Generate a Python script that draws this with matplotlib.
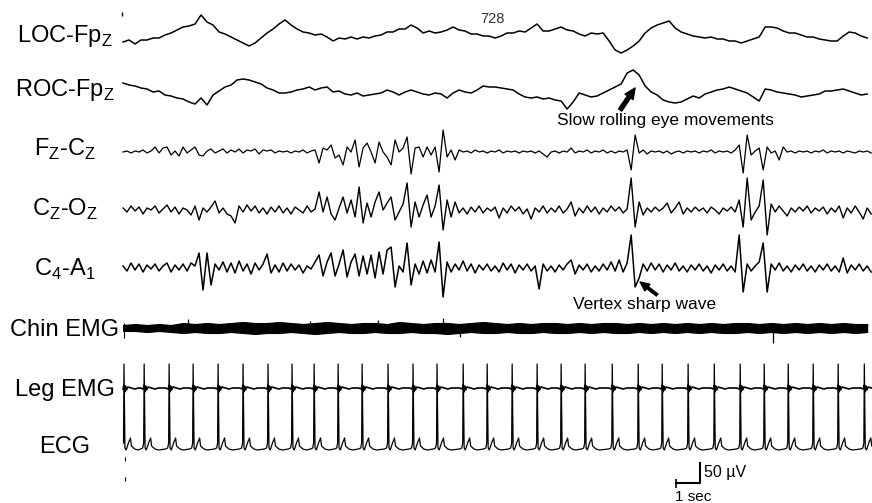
"""30-s polysomnography epoch: stage N1 with slow eye movements and vertex sharp waves."""

import numpy as np
import matplotlib.pyplot as plt

plt.rcParams["font.family"] = ["Liberation Sans", "DejaVu Sans"]
plt.rcParams["mathtext.fontset"] = "custom"
plt.rcParams["mathtext.rm"] = "Liberation Sans"

# ---------------------------------------------------------------------------
# data (µV relative to each channel's baseline)
# ---------------------------------------------------------------------------
channels = [
    "LOC-Fp$_\\mathregular{Z}$",
    "ROC-Fp$_\\mathregular{Z}$",
    "F$_\\mathregular{Z}$-C$_\\mathregular{Z}$",
    "C$_\\mathregular{Z}$-O$_\\mathregular{Z}$",
    "C$_\\mathregular{4}$-A$_\\mathregular{1}$",
    "Chin EMG",
    "Leg EMG",
    "ECG",
]

# eye channels, one value every 0.25 s
loc = [
    -17.5, -12.5, -22.5, -12.5, -12.5, -7.5, -7.5, 0,
    5, 12.5, 20, 22.5, 27.5, 50, 32.5, 25,
    7.5, 2.5, -5, -12.5, -20, -27.5, -20, -7.5,
    5, 15, 27.5, 37.5, 25, 15, 7.5, 5,
    0, 2.5, -5, -15, -7.5, -10, -5, -10,
    -5, -7.5, -2.5, 0, 7.5, 7.5, 15, 15,
    25, 17.5, 5, 10, 5, 7.5, 12.5, 20,
    12.5, 10, 2.5, 2.5, -2.5, -2.5, -7.5, -2.5,
    5, 5, 10, 7.5, 17.5, 27.5, 10, 10,
    15, 20, 12.5, 10, 2.5, -2.5, 5, 2.5,
    5, -15, -37.5, -45, -37.5, -27.5, -15, 5,
    17.5, 25, 30, 35, 17.5, 7.5, 2.5, -2.5,
    -5, -7.5, -5, -10, -10, -15, -15, -20,
    -15, -10, -5, 20, 20, 17.5, 10, 5,
    5, 0, -5, -5, -10, -12.5, -15, -15,
    -2.5, 7.5, 5, -2.5, -7.5,
]
roc = [
    25, 20, 17.5, 12.5, 10, 2.5, 5, -5,
    -7.5, -12.5, -15, -22.5, -27.5, -12.5, -30, -5,
    5, 15, 20, 32.5, 35, 32.5, 27.5, 22.5,
    12.5, 7.5, 0, 0, 2.5, 7.5, 10, 15,
    7.5, 12.5, 15, 2.5, 5, -2.5, -5, 0,
    -7.5, -5, -2.5, 0, 7.5, 2.5, -5, 2.5,
    7.5, 2.5, -2.5, -5, 0, -2.5, -12.5, 0,
    7.5, 2.5, 0, 7.5, 17.5, 15, 15, 12.5,
    10, 7.5, -2.5, -10, -12.5, -10, -15, -12.5,
    -17.5, -20, -40, -22.5, 0, -5, -10, -7.5,
    0, 7.5, 15, 22.5, 50, 57.5, 45, 17.5,
    2.5, -5, -17.5, -22.5, -25, -22.5, -15, -7.5,
    -12.5, -2.5, 2.5, 7.5, 10, 15, 10, 5,
    0, -10, -20, 10, 7.5, 2.5, 0, -2.5,
    -5, -10, -7.5, -5, -2.5, 5, 5, 7.5,
    10, 5, 0, -5, -2.5,
]

# EEG channels, one value every 1/6 s
fz_cz = [
    0, 2.5, -2.5, 2.5, 0, 5, -2.5, 2.5,
    12.5, -2.5, 10, 12.5, -7.5, 2.5, -10, 12.5,
    -2.5, 5, 12.5, -7.5, -10, 2.5, 7.5, -2.5,
    2.5, 7.5, -2.5, 5, 0, 7.5, -2.5, 5,
    2.5, 7.5, -5, 5, 2.5, 5, -2.5, 2.5,
    0, 2.5, -2.5, 2.5, 0, 5, -2.5, 2.5,
    5, -27.5, 10, 5, 17.5, -15, -7.5, -32.5,
    12.5, 0, 30, -37.5, 10, 22.5, 0, -27.5,
    25, 0, -12.5, -32.5, 30, 0, 10, 37.5,
    -55, 10, 12.5, -12.5, 12.5, -7.5, 12.5, -50,
    55, -12.5, 5, -20, 5, 0, 2.5, -2.5,
    5, 0, 2.5, -2.5, 2.5, 0, 5, -2.5,
    2.5, 0, 2.5, -2.5, 2.5, 0, 2.5, -2.5,
    2.5, -5, -12.5, 0, 2.5, -2.5, 2.5, 0,
    10, -2.5, 2.5, 0, 5, -2.5, 2.5, 0,
    5, -2.5, 2.5, -2.5, 2.5, 0, 5, -45,
    42.5, -2.5, 5, -5, 2.5, 0, 2.5, -2.5,
    2.5, -5, 0, 2.5, -2.5, 2.5, 0, 2.5,
    -2.5, 2.5, 0, 5, -2.5, 2.5, 0, 2.5,
    -2.5, 5, 17.5, -52.5, 42.5, -7.5, 2.5, 10,
    -45, 12.5, -2.5, 2.5, -20, 12.5, 0, 2.5,
    -2.5, 2.5, 0, 2.5, -2.5, 2.5, 0, 5,
    -2.5, 2.5, 0, 2.5, -2.5, 2.5, 0, -2.5,
    2.5, 0, 2.5, -2.5,
]
cz_oz = [
    5, -5, 10, -2.5, 7.5, -10, 5, 0,
    10, -7.5, 2.5, 12.5, -5, 7.5, -10, 5,
    0, -12.5, 10, -25, 5, -5, 7.5, 22.5,
    -7.5, 5, -10, -15, -32.5, 10, -5, 12.5,
    -2.5, 10, -7.5, 5, -10, 7.5, -5, 10,
    -7.5, 5, -10, 7.5, 0, -7.5, 10, -5,
    2.5, 45, -5, 32.5, -10, -25, 5, 32.5,
    -7.5, 25, -17.5, 57.5, -32.5, 17.5, -17.5, 20,
    45, 0, 17.5, 32.5, -25, -5, 15, 67.5,
    -42.5, 20, -17.5, 12.5, 37.5, -17.5, 10, 62.5,
    -50, 25, -17.5, 20, -7.5, 5, -10, 7.5,
    -5, 10, -7.5, 5, -2.5, 7.5, -20, 5,
    -7.5, 10, -2.5, 7.5, -10, 2.5, -22.5, 5,
    -5, 10, -7.5, 5, -5, 10, -7.5, 2.5,
    20, -15, 5, -7.5, 10, -5, 7.5, -10,
    5, -5, 10, -2.5, 7.5, -7.5, 2.5, 80,
    -42.5, 20, -12.5, 5, -5, 7.5, -2.5, 5,
    17.5, -7.5, 5, 20, -10, 5, -5, 7.5,
    -2.5, 5, -7.5, 7.5, 0, -10, 5, -2.5,
    7.5, -5, 25, -42.5, 80, -25, -5, 10,
    75, -62.5, 15, -5, 10, -2.5, -15, 5,
    -5, 7.5, -2.5, 10, -7.5, 5, -2.5, 7.5,
    -10, 5, -5, 10, -20, 5, -7.5, 10,
    -5, -22.5, 5, -10,
]
c4_a1 = [
    5, -7.5, 12.5, -5, 10, -10, 7.5, -2.5,
    10, -7.5, 5, 12.5, -10, 7.5, -5, 10,
    -7.5, 12.5, 5, 37.5, -55, 37.5, -42.5, 10,
    -5, 15, -10, 12.5, -12.5, 17.5, -7.5, 10,
    -15, 12.5, -5, 10, 35, -12.5, 7.5, -10,
    12.5, -7.5, 10, -5, 7.5, -12.5, 5, -2.5,
    15, 32.5, -20, 15, 37.5, -20, 10, 45,
    -22.5, 15, 35, -20, 30, -15, 32.5, -25,
    40, -15, 45, 52.5, -47.5, 5, -10, 62.5,
    -42.5, 10, -15, 17.5, -12.5, 20, -10, 65,
    -72.5, 15, -10, 10, -5, 17.5, -7.5, 10,
    -12.5, 7.5, -5, 10, -7.5, 5, -10, 12.5,
    -5, 10, -12.5, 7.5, -5, 10, -7.5, 5,
    -52.5, 10, -7.5, 5, -10, 7.5, -5, 10,
    20, -15, 7.5, -5, 10, -10, 5, -7.5,
    10, -5, 15, -7.5, 20, -10, 12.5, 82.5,
    -47.5, -25, 10, -7.5, 12.5, -5, 10, -10,
    7.5, -5, 12.5, -7.5, 5, -10, 7.5, -5,
    10, -7.5, 5, -12.5, 7.5, -5, 10, -7.5,
    5, -10, 82.5, -60, 10, -7.5, 5, 15,
    62.5, -60, 10, -5, 12.5, -7.5, 5, -10,
    7.5, -5, 10, -7.5, 5, -10, 7.5, -5,
    10, -7.5, 5, -10, 25, -12.5, 7.5, -5,
    10, -7.5, 5, -10,
]
assert len(loc) == len(roc) == 125
assert len(fz_cz) == len(cz_oz) == len(c4_a1) == 188

# chin EMG envelope every 0.5 s, plus the few spikes sticking out of it
chin_upper = [
    7.5, 10, 7.5, 10, 7.5, 12.5, 10, 12.5, 10, 12.5, 15, 12.5,
    12.5, 15, 12.5, 10, 12.5, 15, 12.5, 10, 12.5, 12.5, 10, 15,
    12.5, 10, 12.5, 12.5, 10, 12.5, 15, 12.5, 10, 12.5, 10, 12.5,
    12.5, 10, 12.5, 10, 12.5, 12.5, 10, 12.5, 10, 12.5, 10, 12.5,
    10, 12.5, 10, 12.5, 12.5, 10, 12.5, 10, 12.5, 10, 12.5, 10,
    12.5, 10, 10,
]
chin_lower = [
    -7.5, -7.5, -10, -7.5, -10, -12.5, -10, -12.5, -12.5, -10, -12.5, -15,
    -12.5, -12.5, -10, -12.5, -15, -12.5, -10, -12.5, -12.5, -10, -12.5, -12.5,
    -10, -12.5, -12.5, -15, -12.5, -10, -12.5, -12.5, -10, -12.5, -12.5, -10,
    -12.5, -12.5, -10, -12.5, -10, -12.5, -12.5, -10, -12.5, -10, -12.5, -10,
    -12.5, -10, -12.5, -12.5, -10, -12.5, -10, -12.5, -10, -12.5, -10, -12.5,
    -10, -12.5, -10,
]
chin_spike_t = [2.71, 7.79, 10.63, 13.33, 14.04, 27.08]
chin_spike_v = [22.5, 17.5, 20, 25, -22.5, -37.5]

# R-peak times (s) and the beat shape seen on ECG / leg EMG
r_peaks = [0.04, 0.88, 1.92, 2.92, 3.96, 5.0, 6.04, 7.04, 7.96, 8.96, 9.96,
           11.04, 12.08, 13.08, 14.17, 15.17, 16.21, 17.25, 18.25, 19.25,
           20.38, 21.46, 22.46, 23.54, 24.63, 25.71, 26.71, 27.71, 28.75,
           29.79, 30.88]
ecg_beat_t = [-0.15, -0.06, -0.02, 0.0, 0.04, 0.09, 0.2, 0.27, 0.31, 0.45, 0.6]
ecg_beat_v = [-2.5, 0, 12.5, 210, 0, -5, 15, 25, 5, -2.5, -5]
leg_beat_t = [-0.15, -0.04, 0.0, 0.03, 0.06, 0.1, 0.16, 0.3, 0.45, 0.6]
leg_beat_v = [0, -2.5, 7.5, -10, 5, -5, 2.5, 0, -2.5, 0]

# ---------------------------------------------------------------------------
# layout
# ---------------------------------------------------------------------------
T_END = 31.2
offsets = [1170, 1025, 877.5, 732.5, 587.5, 437.5, 287.5, 137.5]
label_y = [1152.5, 1017.5, 867.5, 717.5, 567.5, 417.5, 267.5, 125]


def beat_trace(peaks, shape_t, shape_v):
    tt = np.concatenate([p + np.asarray(shape_t) for p in peaks])
    vv = np.tile(shape_v, len(peaks))
    order = np.argsort(tt)
    tt, vv = tt[order], vv[order]
    keep = tt >= 0
    return tt[keep], vv[keep]


fig = plt.figure(figsize=(8.72, 5.03), dpi=100)
ax = fig.add_axes([0, 0, 1, 1])
ax.set_xlim(-5.125, T_END)
ax.set_ylim(0, 1257.5)
ax.axis("off")

t_eye = np.arange(len(loc)) * 0.25
t_eeg = np.arange(len(fz_cz)) / 6.0
ax.plot(t_eye, offsets[0] + np.array(loc), color="black", lw=1.1)
ax.plot(t_eye, offsets[1] + np.array(roc), color="black", lw=1.1)
ax.plot(t_eeg, offsets[2] + np.array(fz_cz), color="black", lw=0.9)
ax.plot(t_eeg, offsets[3] + np.array(cz_oz), color="black", lw=1.0)
ax.plot(t_eeg, offsets[4] + np.array(c4_a1), color="black", lw=1.1)

t_chin = np.arange(len(chin_upper)) * 0.5
ax.fill_between(t_chin, offsets[5] + np.array(chin_lower),
                offsets[5] + np.array(chin_upper), color="black", lw=0.8)
ax.vlines(chin_spike_t, offsets[5], offsets[5] + np.array(chin_spike_v),
          color="black", lw=0.9)
ax.vlines(0.04, offsets[5] - 25, offsets[5] + 12.5, color="black", lw=0.8)

t_leg, v_leg = beat_trace(r_peaks, leg_beat_t, leg_beat_v)
ax.plot(t_leg, offsets[6] + v_leg, color="black", lw=1.2)
t_ecg, v_ecg = beat_trace(r_peaks, ecg_beat_t, ecg_beat_v)
ax.plot(t_ecg, offsets[7] + v_ecg, color="black", lw=0.9)

for name, y in zip(channels, label_y):
    ax.text(-2.42, y, name, fontsize=17, ha="center", va="baseline")

# small marks at the sweep edge
ax.vlines(-0.04, 1217.5, 1227.5, color="black", lw=1)
ax.vlines([0.08, 0.08], [105, 55], [115, 65], color="black", lw=0.8)

ax.text(15.375, 1210, "728", fontsize=10.5, ha="center", va="center",
        color="#333333")

# annotations
ax.text(18.08, 946, "Slow rolling eye movements", fontsize=12.5, va="baseline")
ax.annotate("", xy=(21.33, 1037.5), xytext=(20.71, 982.5),
            arrowprops=dict(arrowstyle="simple,head_length=0.55,head_width=0.5,tail_width=0.2",
                            color="black", mutation_scale=14, shrinkA=0, shrinkB=0))
ax.text(18.75, 484, "Vertex sharp wave", fontsize=12.5, va="baseline")
ax.annotate("", xy=(21.54, 552.5), xytext=(22.25, 520),
            arrowprops=dict(arrowstyle="simple,head_length=0.55,head_width=0.5,tail_width=0.15",
                            color="black", mutation_scale=12, shrinkA=0, shrinkB=0))

# calibration bar: 1 sec x 50 µV
ax.plot([23.04, 24.04, 24.04], [50, 50, 100], color="black", lw=1.5)
ax.vlines(23.04, 37.5, 60, color="black", lw=1.2)
ax.text(24.2, 75, "50 µV", fontsize=11.5, va="center")
ax.text(23.0, 5, "1 sec", fontsize=11, va="baseline")

fig.savefig("out.png", dpi=100)
